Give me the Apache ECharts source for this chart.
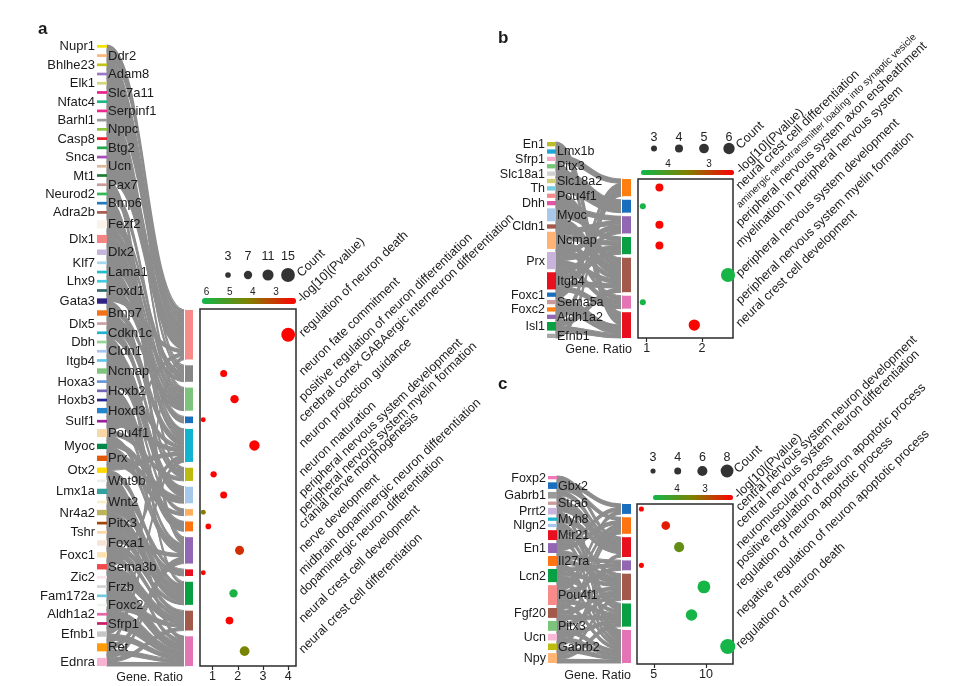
<!DOCTYPE html>
<html><head><meta charset="utf-8">
<script src="https://cdn.jsdelivr.net/npm/echarts@6/dist/echarts.min.js"></script>
<style>html,body{margin:0;padding:0;background:#fff}#chart{width:960px;height:686px}</style>
</head><body><div id="chart"></div>
<script>
// ================= DATA : panel a =================
const genesA = ['Nupr1','Ddr2','Bhlhe23','Adam8','Elk1','Slc7a11','Nfatc4','Serpinf1','Barhl1','Nppc','Casp8','Btg2','Snca','Ucn','Mt1','Pax7','Neurod2','Bmp6','Adra2b','Fezf2','Dlx1','Dlx2','Klf7','Lama1','Lhx9','Foxd1','Gata3','Bmp7','Dlx5','Cdkn1c','Dbh','Cldn1','Itgb4','Ncmap','Hoxa3','Hoxb2','Hoxb3','Hoxd3','Sulf1','Pou4f1','Myoc','Prx','Otx2','Wnt9b','Lmx1a','Wnt2','Nr4a2','Pitx3','Tshr','Foxa1','Foxc1','Sema3b','Zic2','Frzb','Fam172a','Foxc2','Aldh1a2','Sfrp1','Efnb1','Ret','Ednra'];
const geneColorsA = ['#f2e400','#fbb57a','#c2c21a','#9a78c6','#d4d47e','#e8208c','#22b585','#ec2a8e','#9a9a9a','#8cc63e','#ec1c2a','#22a84a','#a84cb8','#dcb89a','#1f7a36','#c89a9a','#36b856','#2478c0','#a65a50','#fbf3ea','#f58484','#c5b4da','#a8d8ec','#1fbccc','#44cbe4','#2f6666','#2e2384','#f47216','#c8a0a0','#1fb2cc','#96d496','#a6c4ec','#62c4ec','#7ec47e','#6a96d4','#7466b6','#24288e','#2284cc','#9a209e','#f7d8a6','#00874a','#e05a0a','#ffd800','#eaf0ea','#33a0a0','#f6f0c4','#bcb45a','#a04408','#fcd8a8','#f6e4d8','#fde2b4','#f24a4a','#fce6ec','#d4d4d4','#74cadc','#f0f6ee','#e466a4','#c41e66','#c6c6c6','#ff9a08','#f8b2d2'];
const termsA = ['regulation of neuron death','neuron fate commitment','positive regulation of neuron differentiation','cerebral cortex GABAergic interneuron differentiation','neuron projection guidance','neuron maturation','peripheral nervous system development','peripheral nervous system myelin formation','cranial nerve morphogenesis','nerve development','midbrain dopaminergic neuron differentiation','dopaminergic neuron differentiation','neural crest cell development','neural crest cell differentiation'];
const termColorsA = ['#f88a8a','#868686','#7cc47c','#1a6ebe','#10b4d0','#bcbc10','#a6c8ea','#ffae60','#ff7410','#9266b2','#e8101e','#08a042','#a45a4a','#e474b4'];
const countA = [15,5,7,2,10,4,5,2,3,8,2,7,6,9];
const ratioA = [4.0,1.44,1.87,0.63,2.66,1.04,1.44,0.63,0.83,2.07,0.63,1.83,1.67,2.27];
const logPA = [2.2,2.2,2.2,2.2,2.2,2.2,2.2,4.1,2.2,2.85,2.2,6.0,2.2,4.3];
const linksA = [
  ['Nupr1','Ddr2','Adam8','Elk1','Slc7a11','Nfatc4','Serpinf1','Casp8','Btg2','Snca','Ucn','Mt1','Gata3','Pou4f1','Ret'],
  ['Bhlhe23','Barhl1','Fezf2','Dlx1','Lhx9'],
  ['Nppc','Neurod2','Fezf2','Dlx1','Klf7','Bmp7','Foxd1'],
  ['Dlx1','Dlx2'],
  ['Fezf2','Dlx2','Lama1','Bmp7','Dlx5','Hoxa3','Sulf1','Otx2','Sema3b','Efnb1'],
  ['Adra2b','Gata3','Cdkn1c','Pou4f1'],
  ['Cldn1','Itgb4','Ncmap','Myoc','Prx'],
  ['Ncmap','Prx'],
  ['Hoxb2','Hoxb3','Hoxd3'],
  ['Pax7','Bmp6','Hoxd3','Pou4f1','Myoc','Foxa1','Ret','Ednra'],
  ['Lmx1a','Nr4a2'],
  ['Dbh','Otx2','Lmx1a','Nr4a2','Pitx3','Foxa1','Wnt2'],
  ['Tshr','Foxc1','Sema3b','Zic2','Foxc2','Ednra'],
  ['Wnt9b','Foxc1','Frzb','Fam172a','Aldh1a2','Sfrp1','Efnb1','Ret','Ednra']
];
const sizeLegendA = [3,7,11,15];
const pTicksA = [6,5,4,3];
const ratioTicksA = [1,2,3,4];

// ================= DATA : panel b =================
const genesB = ['En1','Lmx1b','Sfrp1','Pitx3','Slc18a1','Slc18a2','Th','Pou4f1','Dhh','Myoc','Cldn1','Ncmap','Prx','Itgb4','Foxc1','Sema5a','Foxc2','Aldh1a2','Isl1','Efnb1'];
const geneColorsB = ['#bcbc2a','#1ea6d6','#f6a8c8','#76c476','#cfcfcf','#cfcf76','#72cce2','#f58a8a','#e454a4','#a8c8ea','#a45a4a','#ffb474','#c8b4da','#e8101e','#1a6ebe','#c89a9a','#ff8010','#9266b2','#08a042','#a6a6a6'];
const termsB = ['neural crest cell differentiation','aminergic neurotransmitter loading into synaptic vesicle','peripheral nervous system axon ensheathment','myelination in peripheral nervous system','peripheral nervous system development','peripheral nervous system myelin formation','neural crest cell development'];
const termColorsB = ['#ff8010','#1a6ebe','#9266b2','#08a042','#a45a4a','#e474b4','#e8101e'];
const countB = [4,3,4,4,8,3,6];
const ratioB = [1.23,0.93,1.23,1.23,2.47,0.93,1.86];
const logPB = [2.45,4.6,2.45,2.45,4.6,4.6,2.45];
const linksB = [
  ['Sfrp1','Foxc1','Aldh1a2','Efnb1'],
  ['Slc18a1','Slc18a2','Th'],
  ['Myoc','Ncmap','Prx','Itgb4'],
  ['Myoc','Ncmap','Prx','Itgb4'],
  ['Pou4f1','Dhh','Myoc','Cldn1','Ncmap','Prx','Itgb4','Isl1'],
  ['Ncmap','Prx','Itgb4'],
  ['En1','Lmx1b','Pitx3','Sema5a','Foxc2','Isl1']
];
const sizeLegendB = [3,4,5,6];
const pTicksB = [4,3];
const ratioTicksB = [1,2];

// ================= DATA : panel c =================
const genesC = ['Foxp2','Gbx2','Gabrb1','Stra6','Prrt2','Myh8','Nlgn2','Mir21','En1','Il27ra','Lcn2','Pou4f1','Fgf20','Pitx3','Ucn','Gabrb2','Npy'];
const geneColorsC = ['#f07ab8','#1a6ebe','#9a9a9a','#c89a9a','#c8b4da','#1fb2cc','#a8c8ea','#e8101e','#9266b2','#ff7410','#08a042','#f88a8a','#a45a4a','#7cc47c','#f8b8d6','#bcbc10','#ffb474'];
const termsC = ['central nervous system neuron development','central nervous system neuron differentiation','neuromuscular process','positive regulation of neuron apoptotic process','regulation of neuron apoptotic process','negative regulation of neuron apoptotic process','regulation of neuron death'];
const termColorsC = ['#1a6ebe','#ff7410','#e8101e','#9266b2','#a45a4a','#08a042','#e474b4'];
const countC = [3,5,6,3,8,7,10];
const ratioC = [3.81,6.15,7.43,3.81,9.81,8.62,12.1];
const logPC = [2.05,2.3,3.8,2.05,4.8,4.8,4.8];
const linksC = [
  ['Gbx2','En1','Pou4f1'],
  ['Gbx2','En1','Pou4f1','Fgf20','Pitx3'],
  ['Foxp2','Gabrb1','Stra6','Prrt2','Myh8','Gabrb2'],
  ['Il27ra','Lcn2','Pou4f1'],
  ['Mir21','En1','Il27ra','Lcn2','Pou4f1','Fgf20','Pitx3','Npy'],
  ['Nlgn2','Mir21','Lcn2','Pou4f1','Fgf20','Ucn','Npy'],
  ['Gabrb1','Prrt2','Mir21','Il27ra','Lcn2','Pou4f1','Pitx3','Ucn','Gabrb2','Npy']
];
const sizeLegendC = [3,4,6,8];
const pTicksC = [4,3];
const ratioTicksC = [5,10];

// ================= LAYOUT (positions / styles) =================
const FONT = '"Liberation Sans", Arial, Helvetica, sans-serif';
const ANG = 44 * Math.PI / 180;
const COLORS_P = ['#ff0000', '#808000', '#10b84a'];
const RIBBON = '#8d8d8d';

const panels = [
  { data: {genes: genesA, geneColors: geneColorsA, terms: termsA, termColors: termColorsA, count: countA, ratio: ratioA, logP: logPA, links: linksA, sizeLegend: sizeLegendA, pTicks: pTicksA, xTicks: ratioTicksA},
    lay: {tag: 'a', tagAt: [38, 29], geneX: 97, geneW: 10, termX: 185, termW: 8, geneTop: 45, termTop: 310, bottom: 666,
      geneUnit: 2.7, termUnit: 3.3, box: [200, 309, 296, 666], xMin: 0.5, xMax: 4.31, nameGap: 17, geneFont: 13,
      legend: {left: 218, top: 265, width: 80, height: 20, margin: 2},
      cbar: {left: 202, top: 298, len: 94, thick: 6, min: 2.13, max: 6.2},
      countAt: [299, 275], pAt: [299, 301], small: [], sizeFn: c => 3.6 + 0.68 * c } },
  { data: {genes: genesB, geneColors: geneColorsB, terms: termsB, termColors: termColorsB, count: countB, ratio: ratioB, logP: logPB, links: linksB, sizeLegend: sizeLegendB, pTicks: pTicksB, xTicks: ratioTicksB},
    lay: {tag: 'b', tagAt: [498, 38], geneX: 547, geneW: 9, termX: 622, termW: 9, geneTop: 142, termTop: 179, bottom: 338,
      geneUnit: 4.3, termUnit: 4.3, box: [638, 179, 733, 338], xMin: 0.843, xMax: 2.56, nameGap: 6, geneFont: 12.5,
      legend: {left: 641.5, top: 145, width: 100, height: 7, margin: 1},
      cbar: {left: 641, top: 170, len: 93, thick: 5, min: 2.39, max: 4.66},
      countAt: [738, 147], pAt: [738, 172], small: [1], sizeFn: c => 7.4 * Math.sqrt(c) - 6.8 } },
  { data: {genes: genesC, geneColors: geneColorsC, terms: termsC, termColors: termColorsC, count: countC, ratio: ratioC, logP: logPC, links: linksC, sizeLegend: sizeLegendC, pTicks: pTicksC, xTicks: ratioTicksC},
    lay: {tag: 'c', tagAt: [498, 384], geneX: 548, geneW: 9, termX: 622, termW: 9, geneTop: 476, termTop: 504, bottom: 663,
      geneUnit: 3.3, termUnit: 3.3, box: [637, 504, 733, 664], xMin: 3.39, xMax: 12.6, nameGap: 6, geneFont: 12.5,
      legend: {left: 640.7, top: 466, width: 98.7, height: 10, margin: 2},
      cbar: {left: 653, top: 495, len: 80, thick: 5, min: 2.0, max: 4.86},
      countAt: [736, 471], pAt: [736, 497], small: [], sizeFn: c => 7 * Math.sqrt(c) - 7 } }
];

const option = {
  animation: false, backgroundColor: '#fff',
  grid: [], xAxis: [], yAxis: [], series: [], visualMap: [], graphic: {elements: []}
};

function addGrid(g, xa, ya) {
  const i = option.grid.length;
  option.grid.push(Object.assign({outerBoundsMode: 'none', containLabel: false}, g));
  option.xAxis.push(Object.assign({gridIndex: i}, xa));
  option.yAxis.push(Object.assign({gridIndex: i}, ya));
  return i;
}

function ribbonPath(x0, x1, a0, a1, b0, b1) {
  const xm = (x0 + x1) / 2;
  return 'M' + x0 + ',' + a0 + 'C' + xm + ',' + a0 + ' ' + xm + ',' + b0 + ' ' + x1 + ',' + b0 +
         'L' + x1 + ',' + b1 + 'C' + xm + ',' + b1 + ' ' + xm + ',' + a1 + ' ' + x0 + ',' + a1 + 'Z';
}

function buildPanel(P, L) {
  const nG = P.genes.length, nT = P.terms.length;
  const H = L.bottom - L.geneTop;
  const W = L.termX + L.termW - L.geneX;
  // gene weights = number of links
  const w = P.genes.map(() => 0);
  P.links.forEach(list => list.forEach(g => { w[P.genes.indexOf(g)] += 1; }));
  const sumW = w.reduce((a, b) => a + b, 0);
  const gapG = (H - sumW * L.geneUnit) / (nG - 1);
  const gY0 = []; let acc = 0;
  for (let k = 0; k < nG; k++) { gY0.push(acc); acc += w[k] * L.geneUnit + gapG; }
  const cnt = P.count;
  const sumC = cnt.reduce((a, b) => a + b, 0);
  const gapT = (L.bottom - L.termTop - sumC * L.termUnit) / (nT - 1);
  const tY0 = []; acc = L.termTop - L.geneTop;
  for (let t = 0; t < nT; t++) { tY0.push(acc); acc += cnt[t] * L.termUnit + gapT; }
  const tMid = tY0.map((y, t) => y + cnt[t] * L.termUnit / 2);
  // ribbons: gene side spreads over the whole gene slot, term side over the term bar
  const used = P.genes.map(() => 0);
  const ribbons = [];
  P.links.forEach((list, t) => {
    list.map(g => P.genes.indexOf(g)).sort((a, b) => a - b).forEach((k, j) => {
      const slotTop = Math.max(0, gY0[k] - gapG / 2);
      const slotBot = Math.min(H, gY0[k] + w[k] * L.geneUnit + gapG / 2);
      const step = (slotBot - slotTop) / w[k];
      const s0 = slotTop + used[k] * step;
      used[k] += 1;
      const e0 = tY0[t] + j * L.termUnit;
      ribbons.push([s0, s0 + step, e0, e0 + L.termUnit]);
    });
  });

  // ---- sankey grid ----
  const gS = addGrid({left: L.geneX, top: L.geneTop, width: W, height: H},
    {type: 'value', min: 0, max: W, show: false},
    {type: 'value', min: 0, max: H, inverse: true, show: false});
  const xTermLeft = L.termX - L.geneX;
  option.series.push({
    type: 'custom', xAxisIndex: gS, yAxisIndex: gS, silent: true, z: 1,
    data: ribbons,
    renderItem: (params, api) => {
      const r = ribbons[params.dataIndex];
      const a0 = api.coord([L.geneW, r[0]]), a1 = api.coord([L.geneW, r[1]]);
      const b0 = api.coord([xTermLeft, r[2]]), b1 = api.coord([xTermLeft, r[3]]);
      return {type: 'path', shape: {pathData: ribbonPath(a0[0], b0[0], a0[1], a1[1], b0[1], b1[1])},
        style: {fill: RIBBON, opacity: 1, stroke: RIBBON, lineWidth: 1.1}};
    }
  });
  option.series.push({
    type: 'custom', xAxisIndex: gS, yAxisIndex: gS, silent: true, z: 2,
    data: tY0.map((y, t) => [xTermLeft, y]),
    renderItem: (params, api) => {
      const t = params.dataIndex;
      const a = api.coord([xTermLeft, tY0[t]]), b = api.coord([W, tY0[t] + cnt[t] * L.termUnit]);
      return {type: 'group', children: [
        {type: 'rect', shape: {x: a[0] - 1, y: a[1] - gapT / 2, width: 1, height: b[1] - a[1] + gapT}, style: {fill: '#fff'}},
        {type: 'rect', shape: {x: a[0], y: a[1], width: b[0] - a[0], height: b[1] - a[1]}, style: {fill: P.termColors[t]}}
      ]};
    }
  });
  option.series.push({
    type: 'custom', xAxisIndex: gS, yAxisIndex: gS, silent: true, z: 3,
    data: gY0.map(y => [0, y]),
    renderItem: (params, api) => {
      const k = params.dataIndex;
      const a = api.coord([0, gY0[k]]), b = api.coord([L.geneW, gY0[k] + w[k] * L.geneUnit]);
      const left = k % 2 === 0;
      return {type: 'group', children: [
        {type: 'rect', shape: {x: a[0], y: a[1], width: b[0] - a[0], height: b[1] - a[1]}, style: {fill: P.geneColors[k]}},
        {type: 'text', x: left ? a[0] - 2 : b[0] + 1, y: (a[1] + b[1]) / 2 + 0.5,
          style: {text: P.genes[k], fill: '#1a1a1a', fontSize: L.geneFont, fontFamily: FONT,
            align: left ? 'right' : 'left', verticalAlign: 'middle'}}
      ]};
    }
  });

  // ---- bubble grid ----
  const bx = L.box;
  const gB = addGrid({left: bx[0], top: bx[1], width: bx[2] - bx[0], height: bx[3] - bx[1], show: true,
      borderColor: '#2b2b2b', borderWidth: 1.5, backgroundColor: '#fff'},
    {type: 'value', min: L.xMin, max: L.xMax, axisLine: {show: false}, splitLine: {show: false},
      axisTick: {show: true, length: 4, customValues: P.xTicks, lineStyle: {color: '#2b2b2b', width: 1.2}},
      axisLabel: {customValues: P.xTicks, fontSize: 12.5, color: '#222', margin: 4, fontFamily: FONT},
      name: 'Gene. Ratio', nameLocation: 'start', nameGap: L.nameGap,
      nameTextStyle: {fontSize: 12.5, color: '#222', fontFamily: FONT, verticalAlign: 'top', padding: [5, 0, 0, 0]}},
    {type: 'value', min: bx[1] - L.geneTop, max: bx[3] - L.geneTop, inverse: true, show: false});
  const sBub = option.series.length;
  option.series.push({
    type: 'scatter', xAxisIndex: gB, yAxisIndex: gB, clip: false, silent: true, z: 4,
    data: P.ratio.map((r, t) => [r, tMid[t], P.count[t], P.logP[t]]),
    symbolSize: v => L.sizeFn(v[2]),
    itemStyle: {opacity: 1}
  });
  option.series.push({
    type: 'custom', xAxisIndex: gB, yAxisIndex: gB, silent: true, z: 4,
    data: tMid.map(y => [L.xMax, y]),
    renderItem: (params, api) => {
      const t = params.dataIndex;
      const p = api.coord([L.xMax, tMid[t]]);
      return {type: 'text', x: p[0] + 5, y: p[1], rotation: ANG,
        style: {text: P.terms[t], fill: '#1a1a1a', fontSize: L.small.indexOf(t) >= 0 ? 10 : 12.5, fontFamily: FONT,
          align: 'left', verticalAlign: 'middle'}};
    }
  });

  // ---- size legend ----
  const lg = L.legend;
  const gL = addGrid({left: lg.left, top: lg.top, width: lg.width, height: lg.height},
    {type: 'category', data: P.sizeLegend.map(String), position: 'top', boundaryGap: true,
      axisLine: {show: false}, axisTick: {show: false}, splitLine: {show: false},
      axisLabel: {fontSize: 12.5, color: '#222', margin: lg.margin, fontFamily: FONT}},
    {type: 'value', min: 0, max: 1, show: false});
  option.series.push({
    type: 'scatter', xAxisIndex: gL, yAxisIndex: gL, silent: true,
    data: P.sizeLegend.map((c, i) => [i, 0.5, c]),
    symbolSize: v => L.sizeFn(v[2]),
    itemStyle: {color: '#000'}
  });

  // ---- colour bar ----
  const cb = L.cbar;
  addGrid({left: cb.left, top: cb.top, width: cb.len, height: cb.thick},
    {type: 'value', position: 'top', min: cb.min, max: cb.max, inverse: true,
      axisLine: {show: false}, splitLine: {show: false},
      axisTick: {show: true, length: 4, customValues: P.pTicks, lineStyle: {color: '#333'}},
      axisLabel: {customValues: P.pTicks, fontSize: 10, color: '#222', margin: 1, fontFamily: FONT}},
    {type: 'value', min: 0, max: 1, show: false});
  option.visualMap.push({
    type: 'continuous', seriesIndex: sBub, dimension: 3, min: cb.min, max: cb.max,
    orient: 'horizontal', inverse: true, left: cb.left, top: cb.top,
    itemWidth: cb.thick, itemHeight: cb.len, padding: 0, calculable: false, hoverLink: false,
    inRange: {color: COLORS_P}
  });

  // ---- texts ----
  const tx = (text, x, y, rot, size, weight) => ({type: 'text', x: x, y: y, rotation: rot, silent: true,
    style: {text: text, fill: '#1a1a1a', fontSize: size, fontWeight: weight || 'normal', fontFamily: FONT,
      align: 'left', verticalAlign: 'middle'}});
  option.graphic.elements.push(tx(L.tag, L.tagAt[0], L.tagAt[1], 0, 17, 'bold'));
  option.graphic.elements.push(tx('Count', L.countAt[0], L.countAt[1], ANG, 12.5));
  option.graphic.elements.push(tx('-log[10](Pvalue)', L.pAt[0], L.pAt[1], ANG, 12.5));
}

panels.forEach(p => buildPanel(p.data, p.lay));

const chart = echarts.init(document.getElementById('chart'), null, {renderer: 'canvas'});
chart.setOption(option);
</script>
</body></html>
